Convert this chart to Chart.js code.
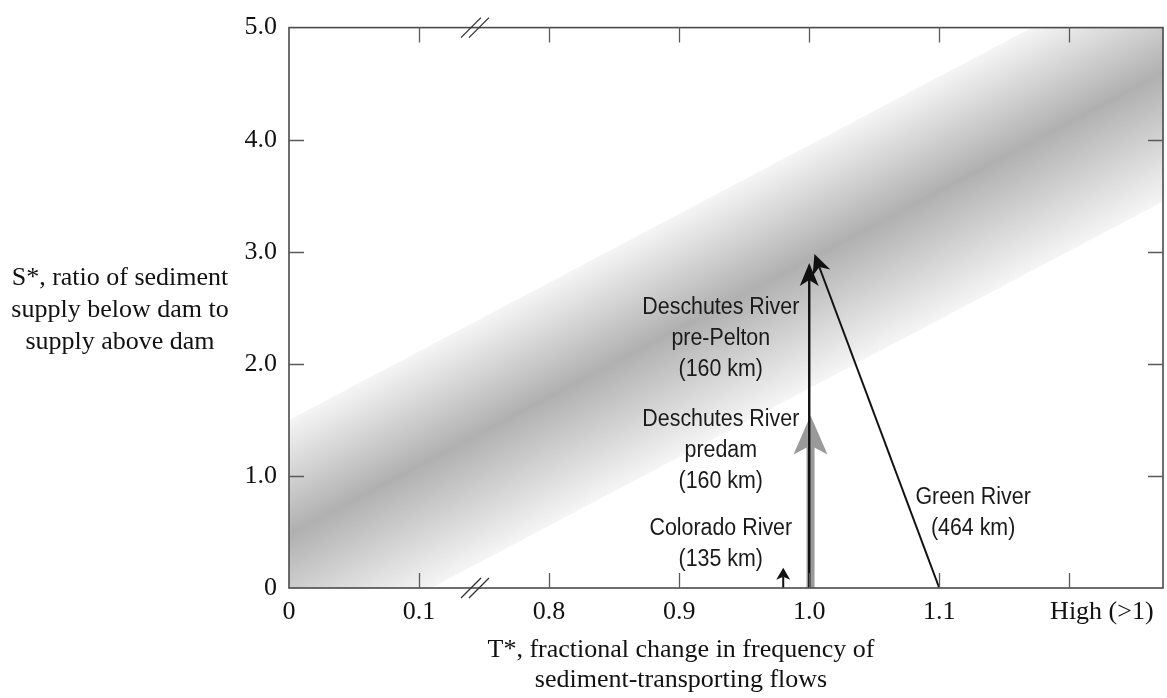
<!DOCTYPE html>
<html>
<head>
<meta charset="utf-8">
<script src="https://cdn.jsdelivr.net/npm/chart.js@4.4.1/dist/chart.umd.min.js"></script>
<style>
  html, body { margin: 0; padding: 0; background: #fff; }
  #wrap { width: 1167px; height: 698px; position: relative; }
</style>
</head>
<body>
<div id="wrap"><canvas id="chart"></canvas></div>
<script>
// x axis is broken between 0.1 and 0.8, ticks sit on evenly spaced slots
const xTickSlots = [0, 1, 2, 3, 4, 5, 6];
const xTickLabels = ['0', '0.1', '0.8', '0.9', '1.0', '1.1', 'High (>1)'];
const yTickValues = [0, 1, 2, 3, 4, 5];
const yTickLabels = ['0', '1.0', '2.0', '3.0', '4.0', '5.0'];

// shaded band, x given in slots since it runs past "High"
const bandSlots = [0, 7];
const bandLow = [-0.67, 3.62];
const bandHigh = [1.50, 5.79];

// arrows (T*, S*) from start to tip
const arrowNames = ['Deschutes River predam', 'Deschutes River pre-Pelton', 'Colorado River', 'Green River'];
const arrowT0 = [1.001, 1.0, 0.98, 1.1];
const arrowS0 = [0, 0, 0, 0];
const arrowT1 = [1.001, 1.0, 0.98, 1.004];
const arrowS1 = [1.54, 2.90, 0.18, 2.98];

// river labels, anchored at centre of first line
const labelLines = [
    ['Deschutes River', 'pre-Pelton', '(160 km)'],
    ['Deschutes River', 'predam', '(160 km)'],
    ['Colorado River', '(135 km)'],
    ['Green River', '(464 km)']
];
const labelT = [0.932, 0.932, 0.932, 1.126];
const labelS = [2.50, 1.50, 0.53, 0.81];

const yTitle = ['S*, ratio of sediment', 'supply below dam to', 'supply above dam'];
const xTitle = ['T*, fractional change in frequency of', 'sediment-transporting flows'];

const breakSlot = 1.43;

// T* value -> slot on the broken axis
function tSlot(t) {
    return t <= 0.1 ? t * 10 : 2 + (t - 0.8) * 10;
}

const arrowStyle = [
    { color: '#9a9a9a', width: 8, L: 39, W: 17, N: 9, order: 5 },
    { color: '#111', width: 2.4, L: 23, W: 9.5, N: 6, order: 1 },
    { color: '#111', width: 2, L: 12, W: 7, N: 3, order: 1 },
    { color: '#111', width: 2, L: 20, W: 9.5, N: 6, order: 1 }
];

const serif = "'Liberation Serif', 'Times New Roman', serif";
const sans = "'Liberation Sans', Arial, sans-serif";

function bandGradient(context) {
    const chart = context.chart;
    if (!chart.chartArea || !chart.scales.x) return 'rgba(0,0,0,0)';
    const xs = chart.scales.x, ys = chart.scales.y;
    const px0 = xs.getPixelForValue(bandSlots[0]);
    const px1 = xs.getPixelForValue(bandSlots[1]);
    const hi0 = ys.getPixelForValue(bandHigh[0]);
    const hi1 = ys.getPixelForValue(bandHigh[1]);
    const lo0 = ys.getPixelForValue(bandLow[0]);
    const m = (hi1 - hi0) / (px1 - px0);
    const k = (lo0 - hi0) / (1 + m * m);
    const g = chart.ctx.createLinearGradient(px0, hi0, px0 - m * k, hi0 + k);
    g.addColorStop(0, '#f5f5f5');
    g.addColorStop(0.47, '#b0b0b0');
    g.addColorStop(1, '#f5f5f5');
    return g;
}

function arrowGeom(chart, i) {
    const xs = chart.scales.x, ys = chart.scales.y;
    const x0 = xs.getPixelForValue(tSlot(arrowT0[i])), y0 = ys.getPixelForValue(arrowS0[i]);
    const x1 = xs.getPixelForValue(tSlot(arrowT1[i])), y1 = ys.getPixelForValue(arrowS1[i]);
    const len = Math.hypot(x1 - x0, y1 - y0);
    return { x1: x1, y1: y1, ux: (x1 - x0) / len, uy: (y1 - y0) / len };
}

function headPoints(chart, i) {
    const g = arrowGeom(chart, i);
    const vx = -g.uy, vy = g.ux;
    const s = arrowStyle[i];
    return [
        [g.x1, g.y1],
        [g.x1 - g.ux * s.L + vx * s.W, g.y1 - g.uy * s.L + vy * s.W],
        [g.x1 - g.ux * (s.L - s.N), g.y1 - g.uy * (s.L - s.N)],
        [g.x1 - g.ux * s.L - vx * s.W, g.y1 - g.uy * s.L - vy * s.W]
    ];
}

// region of the shaft hidden under the head (notch to past the tip)
function shaftCut(chart, i) {
    const g = arrowGeom(chart, i);
    const vx = -g.uy, vy = g.ux;
    const s = arrowStyle[i];
    const back = s.L - s.N, w = s.W;
    return [
        [g.x1 + g.ux * 4 + vx * w, g.y1 + g.uy * 4 + vy * w],
        [g.x1 - g.ux * back + vx * w, g.y1 - g.uy * back + vy * w],
        [g.x1 - g.ux * back - vx * w, g.y1 - g.uy * back - vy * w],
        [g.x1 + g.ux * 4 - vx * w, g.y1 + g.uy * 4 - vy * w]
    ];
}

function tracePoly(ctx, pts) {
    ctx.moveTo(pts[0][0], pts[0][1]);
    for (let k = 1; k < pts.length; k++) ctx.lineTo(pts[k][0], pts[k][1]);
    ctx.closePath();
}

const arrowHeads = {
    id: 'arrowHeads',
    beforeDatasetDraw(chart, args) {
        const ds = chart.data.datasets[args.index];
        if (ds.arrowIndex === undefined) return;
        const ctx = chart.ctx;
        ctx.save();
        ctx.beginPath();
        ctx.rect(0, 0, chart.width, chart.height);
        tracePoly(ctx, shaftCut(chart, ds.arrowIndex));
        ctx.clip('evenodd');
    },
    afterDatasetDraw(chart, args) {
        const ds = chart.data.datasets[args.index];
        if (ds.arrowIndex === undefined) return;
        const ctx = chart.ctx;
        ctx.restore();
        ctx.save();
        ctx.fillStyle = arrowStyle[ds.arrowIndex].color;
        ctx.beginPath();
        tracePoly(ctx, headPoints(chart, ds.arrowIndex));
        ctx.fill();
        ctx.restore();
    }
};

const frameAndText = {
    id: 'frameAndText',
    afterDraw(chart) {
        const ctx = chart.ctx;
        const a = chart.chartArea;
        const xs = chart.scales.x, ys = chart.scales.y;
        ctx.save();

        // river labels, slightly condensed like the original lettering
        ctx.fillStyle = '#1a1a1a';
        ctx.font = '23px ' + sans;
        ctx.textAlign = 'center';
        ctx.textBaseline = 'middle';
        labelLines.forEach((lines, i) => {
            const cx = xs.getPixelForValue(tSlot(labelT[i]));
            const cy = ys.getPixelForValue(labelS[i]);
            lines.forEach((txt, j) => {
                ctx.save();
                ctx.translate(cx, cy + j * 31);
                ctx.scale(0.93, 1);
                ctx.fillText(txt, 0, 0);
                ctx.restore();
            });
        });

        // frame
        ctx.strokeStyle = '#4a4a4a';
        ctx.lineWidth = 1.6;
        ctx.strokeRect(a.left, a.top, a.right - a.left, a.bottom - a.top);

        // inward ticks on all four sides
        ctx.strokeStyle = '#5a5a5a';
        ctx.lineWidth = 1.3;
        ctx.beginPath();
        xTickSlots.slice(1).forEach(v => {
            const px = Math.round(xs.getPixelForValue(v)) + 0.5;
            ctx.moveTo(px, a.bottom); ctx.lineTo(px, a.bottom - 15);
            ctx.moveTo(px, a.top); ctx.lineTo(px, a.top + 15);
        });
        yTickValues.slice(1, -1).forEach(v => {
            const py = Math.round(ys.getPixelForValue(v)) + 0.5;
            ctx.moveTo(a.left, py); ctx.lineTo(a.left + 15, py);
            ctx.moveTo(a.right, py); ctx.lineTo(a.right - 15, py);
        });
        ctx.stroke();

        // axis break marks
        const bx = xs.getPixelForValue(breakSlot);
        ctx.strokeStyle = '#333';
        ctx.lineWidth = 1.3;
        ctx.beginPath();
        [a.top, a.bottom].forEach(by => {
            [-4, 4].forEach(off => {
                ctx.moveTo(bx + off - 10, by + 10);
                ctx.lineTo(bx + off + 10, by - 10);
            });
        });
        ctx.stroke();

        // axis titles
        ctx.fillStyle = '#111';
        ctx.font = '26px ' + serif;
        ctx.textAlign = 'center';
        ctx.textBaseline = 'alphabetic';
        yTitle.forEach((txt, j) => ctx.fillText(txt, a.left - 169, 285 + j * 32));
        xTitle.forEach((txt, j) => ctx.fillText(txt, 681, 657 + j * 30));

        ctx.restore();
    }
};

const datasets = [
    {
        label: 'band low',
        data: bandSlots.map((x, i) => ({ x: x, y: bandLow[i] })),
        borderWidth: 0,
        pointRadius: 0,
        fill: false,
        order: 10
    },
    {
        label: 'band high',
        data: bandSlots.map((x, i) => ({ x: x, y: bandHigh[i] })),
        borderWidth: 0,
        pointRadius: 0,
        backgroundColor: bandGradient,
        fill: '-1',
        order: 9
    }
];

arrowNames.forEach((name, i) => {
    datasets.push({
        label: name,
        arrowIndex: i,
        data: [
            { x: tSlot(arrowT0[i]), y: arrowS0[i] },
            { x: tSlot(arrowT1[i]), y: arrowS1[i] }
        ],
        borderColor: arrowStyle[i].color,
        borderWidth: arrowStyle[i].width,
        borderCapStyle: 'butt',
        pointRadius: 0,
        fill: false,
        tension: 0,
        order: arrowStyle[i].order
    });
});

Chart.defaults.font.family = serif;
Chart.defaults.color = '#111';

new Chart(document.getElementById('chart'), {
    type: 'line',
    data: { datasets: datasets },
    options: {
        responsive: true,
        maintainAspectRatio: false,
        animation: false,
        layout: { padding: { left: 0, right: 4, top: 17, bottom: 0 } },
        plugins: {
            legend: { display: false },
            tooltip: { enabled: false }
        },
        scales: {
            x: {
                type: 'linear',
                min: 0,
                max: 6.72,
                grid: { display: false, drawTicks: false },
                border: { display: false },
                afterBuildTicks: scale => {
                    scale.ticks = xTickSlots.map(v => ({ value: v }));
                },
                afterFit: scale => { scale.height = 110; },
                ticks: {
                    autoSkip: false,
                    maxRotation: 0,
                    padding: 9,
                    font: { size: 26 },
                    color: '#111',
                    callback: (value, index) => {
                        const lab = xTickLabels[xTickSlots.indexOf(value)];
                        return lab === 'High (>1)' ? '          ' + lab : lab;
                    }
                }
            },
            y: {
                type: 'linear',
                min: 0,
                max: 5,
                grid: { display: false, drawTicks: false },
                border: { display: false },
                afterBuildTicks: scale => {
                    scale.ticks = yTickValues.map(v => ({ value: v }));
                },
                afterFit: scale => { scale.width = 289; },
                ticks: {
                    padding: 12,
                    font: { size: 26 },
                    color: '#111',
                    callback: value => yTickLabels[yTickValues.indexOf(value)]
                }
            }
        }
    },
    plugins: [arrowHeads, frameAndText]
});
</script>
</body>
</html>
